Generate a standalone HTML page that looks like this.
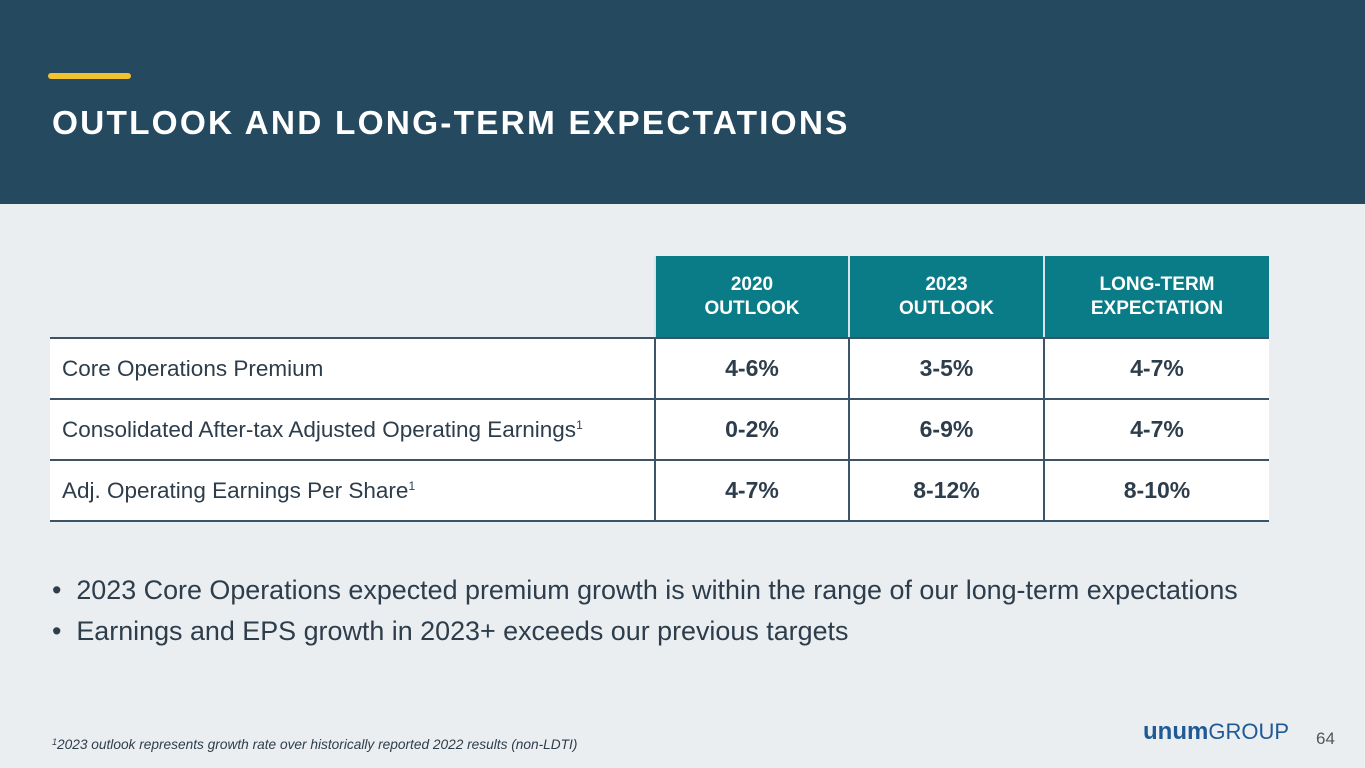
<!DOCTYPE html>
<html><head><meta charset="utf-8"><style>
body{margin:0;width:1365px;height:768px;background:#eaeef1;font-family:"Liberation Sans",sans-serif;position:relative;overflow:hidden;color:#2e3d4b}
.band{position:absolute;left:0;top:0;width:1365px;height:204px;background:#25495f}
.bar{position:absolute;left:48px;top:73px;width:83px;height:6px;border-radius:3px;background:#f2c230}
.title{position:absolute;left:52px;top:105px;color:#fff;font-weight:bold;font-size:33.4px;letter-spacing:2.2px;white-space:nowrap}
table{position:absolute;left:50px;top:256px;border-collapse:collapse;width:1219px;table-layout:fixed}
td{padding:0;height:61px;border-bottom:2px solid #3b5468;box-sizing:border-box}
th{background:#0a7c87;color:#fff;font-size:19px;line-height:24px;font-weight:bold;height:82px;border-left:2px solid #d8e4ea;border-bottom:2px solid #3b5468;box-sizing:border-box}
th.blank{background:transparent;border-left:none}
td.lab{background:#fff;font-size:22.5px;padding-left:12px;white-space:nowrap}
td.v{background:#fff;text-align:center;font-weight:bold;font-size:23px;border-left:2px solid #3b5468;color:#2e3d4b}
sup{font-size:12px;vertical-align:8px}
.bul{position:absolute;left:52px;font-size:26.9px;white-space:nowrap;color:#2e3d4b}
.foot{position:absolute;left:52px;top:737px;font-size:13.7px;font-style:italic;color:#2e3d4b;white-space:nowrap}
.logo{position:absolute;left:1143px;top:718px;font-size:22px;color:#1f5a96;white-space:nowrap}
.pg{position:absolute;left:1316px;top:729px;font-size:17px;color:#555}
</style></head><body>
<div class="band"></div>
<div class="bar"></div>
<div class="title">OUTLOOK AND LONG-TERM EXPECTATIONS</div>
<table>
<colgroup><col style="width:605px"><col style="width:194px"><col style="width:195px"><col style="width:225px"></colgroup>
<tr><th class="blank"></th><th>2020<br>OUTLOOK</th><th>2023<br>OUTLOOK</th><th>LONG-TERM<br>EXPECTATION</th></tr>
<tr><td class="lab">Core Operations Premium</td><td class="v">4-6%</td><td class="v">3-5%</td><td class="v">4-7%</td></tr>
<tr><td class="lab">Consolidated After-tax Adjusted Operating Earnings<sup>1</sup></td><td class="v">0-2%</td><td class="v">6-9%</td><td class="v">4-7%</td></tr>
<tr><td class="lab">Adj. Operating Earnings Per Share<sup>1</sup></td><td class="v">4-7%</td><td class="v">8-12%</td><td class="v">8-10%</td></tr>
</table>
<div class="bul" style="top:575px">•&nbsp; 2023 Core Operations expected premium growth is within the range of our long-term expectations</div>
<div class="bul" style="top:616px">•&nbsp; Earnings and EPS growth in 2023+ exceeds our previous targets</div>
<div class="foot"><sup style="font-size:9px;vertical-align:4px">1</sup>2023 outlook represents growth rate over historically reported 2022 results (non-LDTI)</div>
<div class="logo"><b style="font-size:24px">unum</b>GROUP</div>
<div class="pg">64</div>
</body></html>
